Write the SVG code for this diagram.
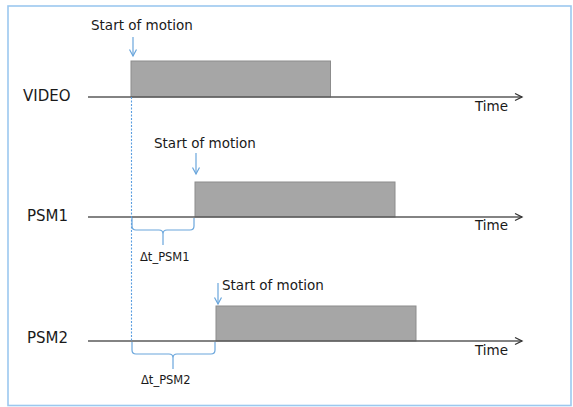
<svg xmlns="http://www.w3.org/2000/svg" width="573" height="407" viewBox="0 0 573 407">
  <defs>
    <style>
      .lbl { font-family: "DejaVu Sans", Verdana, sans-serif; fill: #1a1a1a; }
      .sig { font-size: 15px; }
      .note { font-size: 13.5px; }
      .dt { font-size: 11.5px; }
      .axis { stroke: #5a5a5a; stroke-width: 1.5; fill: none; }
      .pulse { fill: #a6a6a6; stroke: #8c8c8c; stroke-width: 1; }
      .blue { stroke: #6aa6dc; stroke-width: 1.2; fill: none; }
    </style>
    <marker id="axisHead" markerWidth="10" markerHeight="10" refX="8" refY="5" orient="auto" markerUnits="userSpaceOnUse">
      <path d="M1,1.5 L8,5 L1,8.5" fill="none" stroke="#333" stroke-width="1.3"/>
    </marker>
    <marker id="blueHead" markerWidth="10" markerHeight="10" refX="5" refY="8" orient="0" markerUnits="userSpaceOnUse">
      <path d="M1.5,1.5 L5,8 L8.5,1.5" fill="none" stroke="#6aa6dc" stroke-width="1.2"/>
    </marker>
  </defs>

  <rect width="573" height="407" fill="#ffffff"/>
  <!-- frame -->
  <rect x="8" y="6" width="563" height="399.5" fill="none" stroke="#9cc8ef" stroke-width="1.6"/>

  <!-- VIDEO signal -->
  <g id="video">
    <rect class="pulse" x="131" y="61" width="199.5" height="36"/>
    <text class="lbl sig" x="23" y="100.5">VIDEO</text>
    <text class="lbl note" x="91" y="30">Start of motion</text>
    <text class="lbl note" x="475" y="111">Time</text>
  </g>

  <!-- PSM1 signal -->
  <g id="psm1">
    <rect class="pulse" x="195" y="182" width="200" height="35"/>
    <text class="lbl sig" x="27" y="220.5">PSM1</text>
    <text class="lbl note" x="154" y="148">Start of motion</text>
    <text class="lbl note" x="475" y="230">Time</text>
    <text class="lbl dt" x="140" y="260.5">Δt_PSM1</text>
  </g>

  <!-- PSM2 signal -->
  <g id="psm2">
    <rect class="pulse" x="216" y="306" width="200" height="35"/>
    <text class="lbl sig" x="27" y="342.5">PSM2</text>
    <text class="lbl note" x="222" y="290">Start of motion</text>
    <text class="lbl note" x="475" y="355">Time</text>
    <text class="lbl dt" x="141" y="384">Δt_PSM2</text>
  </g>

  <g id="connectors">
    <!-- time axes -->
    <line class="axis" x1="88" y1="97" x2="522" y2="97" marker-end="url(#axisHead)"/>
    <line class="axis" x1="88" y1="217" x2="522" y2="217" marker-end="url(#axisHead)"/>
    <line class="axis" x1="88" y1="341" x2="522" y2="341" marker-end="url(#axisHead)"/>

    <!-- reference line at video start -->
    <line x1="131.5" y1="97" x2="131.5" y2="342" stroke="#5b9ee0" stroke-width="1.1" stroke-dasharray="2,1.5"/>

    <!-- start-of-motion pointers -->
    <line class="blue" x1="133" y1="37" x2="133" y2="56" marker-end="url(#blueHead)"/>
    <line class="blue" x1="196" y1="153" x2="196" y2="174" marker-end="url(#blueHead)"/>
    <line class="blue" x1="218" y1="283" x2="218" y2="304" marker-end="url(#blueHead)"/>

    <!-- delay braces -->
    <path class="blue" d="M132,218 V226 Q132,230 136,230 H159 Q163,230 163,234 V245 M163,234 Q163,230 167,230 H190 Q194,230 194,226 V218"/>
    <path class="blue" d="M132,342 V350 Q132,354 136,354 H169 Q173,354 173,358 V369 M173,358 Q173,354 177,354 H211 Q215,354 215,350 V342"/>
  </g>
</svg>
